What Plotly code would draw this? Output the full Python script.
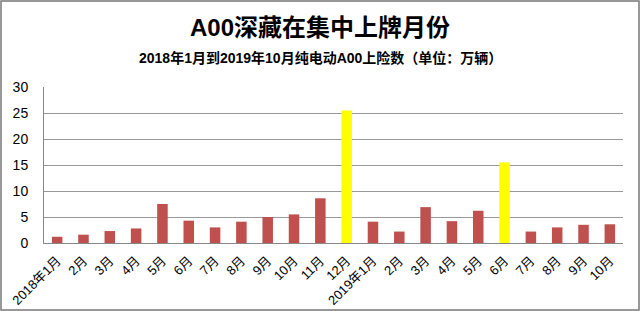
import plotly.graph_objects as go

labels = ["2018年1月", "2月", "3月", "4月", "5月", "6月", "7月", "8月", "9月", "10月", "11月", "12月",
          "2019年1月", "2月", "3月", "4月", "5月", "6月", "7月", "8月", "9月", "10月"]
values = [1.2, 1.6, 2.3, 2.8, 7.5, 4.3, 3.0, 4.1, 5.0, 5.5, 8.6, 25.5,
          4.1, 2.2, 6.9, 4.2, 6.2, 15.5, 2.2, 3.0, 3.5, 3.6]
highlight_idx = [11, 17]

RED = "#C0504D"
YELLOW = "#FFFF00"
colors = [YELLOW if i in highlight_idx else RED for i in range(len(values))]
xs = list(range(len(values)))

W, H = 640, 311
ml, mr, mt, mb = 44, 17, 87, 68
pw, ph = W - ml - mr, H - mt - mb

fig = go.Figure(go.Bar(x=xs, y=values, marker=dict(color=colors, line=dict(width=0)), width=0.4))

font = "Liberation Sans, Noto Sans CJK SC, sans-serif"

def px_x(p):
    return (p - ml) / pw

def px_y(p):
    return (H - mb - p) / ph

fig.update_layout(
    width=W, height=H,
    margin=dict(l=ml, r=mr, t=mt, b=mb),
    paper_bgcolor="white", plot_bgcolor="white",
    showlegend=False,
    font=dict(family=font, color="#000"),
    xaxis=dict(
        tickmode="array", tickvals=xs, ticktext=labels, tickangle=-45,
        range=[-0.5, len(values) - 0.5], automargin=False,
        showline=True, linecolor="#888", linewidth=1,
        showgrid=False, ticks="", tickfont=dict(size=13, family=font),
        ticklabelstandoff=4,
    ),
    yaxis=dict(
        range=[0, 30], tickmode="array", tickvals=[0, 5, 10, 15, 20, 25, 30],
        showline=True, linecolor="#888", linewidth=1, automargin=False,
        showgrid=True, gridcolor="#999", gridwidth=1,
        ticks="", tickfont=dict(size=14, family=font), zeroline=False,
        ticklabelstandoff=12,
    ),
    annotations=[
        dict(text="<b>A00深藏在集中上牌月份</b>", x=px_x(320), y=px_y(27), xref="paper", yref="paper",
             showarrow=False, font=dict(size=24, family=font), xanchor="center", yanchor="middle"),
        dict(text="<b>2018年1月到2019年10月纯电动A00上险数（单位：万辆）</b>", x=px_x(320), y=px_y(58),
             xref="paper", yref="paper", showarrow=False, font=dict(size=14, family=font),
             xanchor="center", yanchor="middle"),
    ],
    shapes=[
        dict(type="rect", xref="paper", yref="paper", x0=px_x(1), x1=px_x(639), y0=px_y(1), y1=px_y(310),
             line=dict(color="#777", width=1.5), fillcolor="rgba(0,0,0,0)", layer="above"),
    ],
)

fig.write_html("out.html")
